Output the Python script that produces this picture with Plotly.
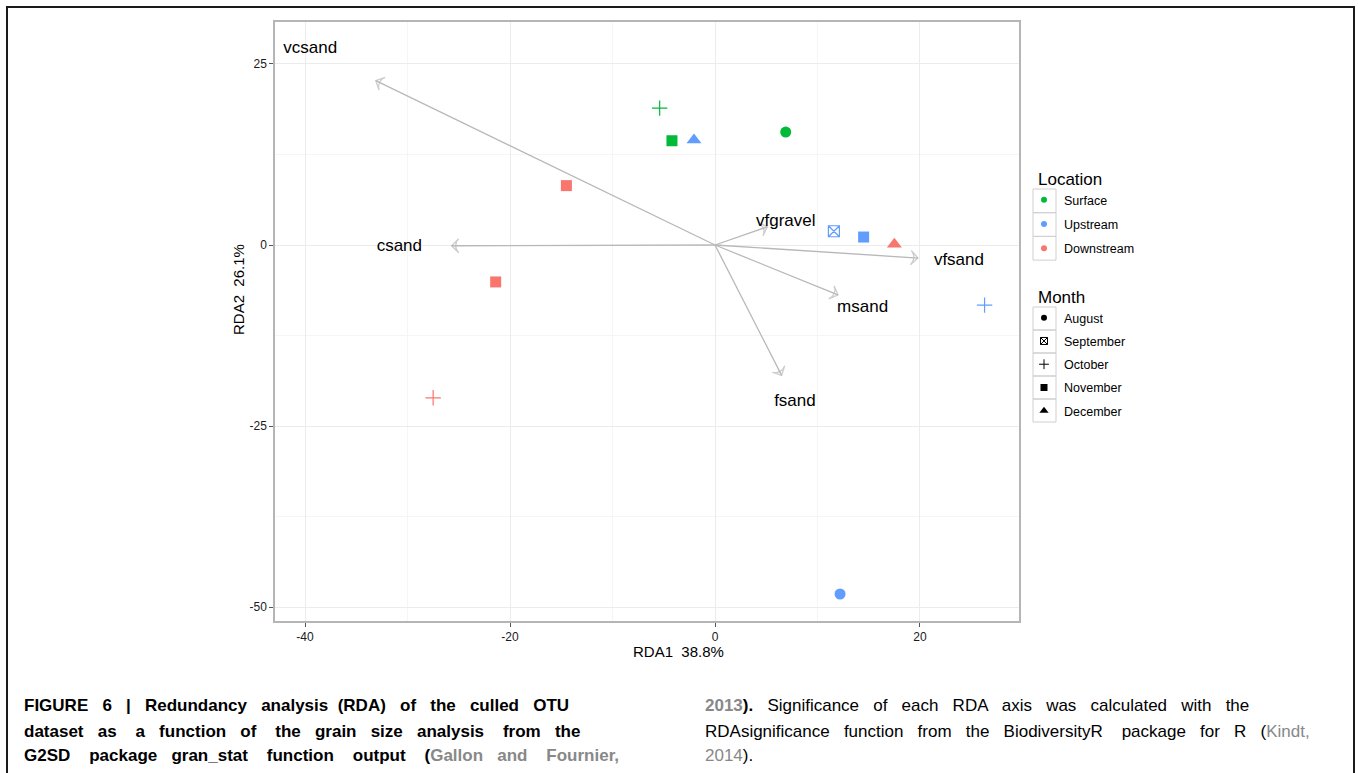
import re
import plotly.graph_objects as go

# ---------------- data ----------------
locations = ["Surface", "Upstream", "Downstream"]
loc_colors = {"Surface": "#00BA38", "Upstream": "#619CFF", "Downstream": "#F8766D"}
months = ["August", "September", "October", "November", "December"]
month_symbols = {"August": "circle", "September": "square-x-open", "October": "cross-thin-open",
                 "November": "square", "December": "triangle-up"}
month_sizes = {"August": 11, "September": 11, "October": 11, "November": 11, "December": 13}

sample_location = ["Surface", "Surface", "Surface",
                   "Upstream", "Upstream", "Upstream", "Upstream", "Upstream",
                   "Downstream", "Downstream", "Downstream", "Downstream"]
sample_month = ["August", "October", "November",
                "August", "September", "October", "November", "December",
                "October", "November", "November", "December"]
rda1 = [6.9, -5.4, -4.2,
        12.2, 11.6, 26.3, 14.5, -2.05,
        -27.5, -21.4, -14.5, 17.5]
rda2 = [15.6, 18.9, 14.4,
        -48.2, 1.9, -8.3, 1.1, 14.5,
        -21.1, -5.1, 8.2, 0.1]

vectors = ["vcsand", "csand", "vfgravel", "vfsand", "msand", "fsand"]
vec_x = [-33.1, -25.7, 5.1, 19.8, 12.0, 6.5]
vec_y = [22.7, -0.1, 2.5, -1.8, -6.9, -18.0]
label_x = [-39.5, -30.8, 6.9, 23.8, 14.4, 7.8]
label_y = [27.1, -0.3, 3.2, -2.2, -8.7, -21.7]

x_tickvals = [-40, -20, 0, 20]
y_tickvals = [-50, -25, 0, 25]
x_title = "RDA1  38.8%"
y_title = "RDA2  26.1%"

# ---------------- geometry helpers (page pixel -> paper) ----------------
L, R, T, B = 275, 1019, 22, 621
W, H = 1358, 773
def px(X):
    return (X - L) / (R - L)
def py(Y):
    return (B - Y) / (B - T)

FONT = "Liberation Sans, Arial, sans-serif"
fig = go.Figure()

# arrows (biplot vectors)
for name, ex, ey in zip(vectors, vec_x, vec_y):
    fig.add_trace(go.Scatter(
        x=[0, ex], y=[0, ey], mode="lines+markers",
        line=dict(color="#b8b8b8", width=1.3),
        marker=dict(symbol=["circle", "arrow-wide-open"], size=[0, 10], angleref="previous",
                    color="#b8b8b8", line=dict(color="#b8b8b8", width=1.3)),
        showlegend=False, hoverinfo="skip"))

# vector labels
fig.add_trace(go.Scatter(
    x=label_x, y=label_y, mode="text", text=vectors,
    textfont=dict(family=FONT, size=17, color="black"),
    textposition="middle center", showlegend=False, hoverinfo="skip"))

# sample points
for loc in locations:
    for mon in months:
        xs = [x for x, l, m in zip(rda1, sample_location, sample_month) if l == loc and m == mon]
        ys = [y for y, l, m in zip(rda2, sample_location, sample_month) if l == loc and m == mon]
        if not xs:
            continue
        sym = month_symbols[mon]
        open_sym = sym.endswith("open")
        fig.add_trace(go.Scatter(
            x=xs, y=ys, mode="markers", showlegend=False,
            name=f"{loc} {mon}",
            marker=dict(symbol=sym, size=month_sizes[mon], color=loc_colors[loc],
                        line=dict(color=loc_colors[loc], width=1.2 if open_sym else 0))))

# legend entries (Location)
for i, loc in enumerate(locations):
    fig.add_trace(go.Scatter(
        x=[None], y=[None], mode="markers", name=loc, legend="legend",
        legendgroup="loc" + str(i),
        marker=dict(symbol="circle", size=6, color=loc_colors[loc])))
# legend entries (Month)
legend_sizes = {"August": 6, "September": 7, "October": 7, "November": 7, "December": 8}
for i, mon in enumerate(months):
    sym = month_symbols[mon]
    fig.add_trace(go.Scatter(
        x=[None], y=[None], mode="markers", name=mon, legend="legend2",
        legendgroup="mon" + str(i),
        marker=dict(symbol=sym, size=legend_sizes[mon], color="black",
                    line=dict(color="black", width=1 if sym.endswith("open") else 0))))

axis_common = dict(showline=True, linecolor="#b5b5b5", linewidth=1.5, mirror=True,
                   ticks="outside", ticklen=4, tickcolor="#555555", tickwidth=1,
                   showgrid=True, gridcolor="#ececec", gridwidth=1, zeroline=False,
                   tickfont=dict(family=FONT, size=12, color="#1a1a1a"))

leg_common = dict(font=dict(size=12.5, family=FONT, color="black"),
                  bgcolor="rgba(0,0,0,0)", indentation=-12,
                  xanchor="left", yanchor="top")

fig.update_layout(
    width=W, height=H,
    margin=dict(l=L, r=W - R, t=T, b=H - B, autoexpand=False),
    paper_bgcolor="white", plot_bgcolor="white",
    xaxis=dict(range=[-42.93, 29.66], tickmode="array", tickvals=x_tickvals,
               ticktext=[str(v) for v in x_tickvals],
               minor=dict(showgrid=True, gridcolor="#f5f5f5", tickvals=[-30, -10, 10], ticks=""),
               **axis_common),
    yaxis=dict(range=[-51.93, 30.8], tickmode="array", tickvals=y_tickvals,
               ticktext=[str(v) for v in y_tickvals],
               minor=dict(showgrid=True, gridcolor="#f5f5f5", tickvals=[-37.5, -12.5, 12.5], ticks=""),
               **axis_common),
    legend=dict(title=dict(text="Location", font=dict(size=17, family=FONT, color="black")),
                x=px(1036), y=py(163), tracegroupgap=5, **leg_common),
    legend2=dict(title=dict(text="Month", font=dict(size=17, family=FONT, color="black")),
                 x=px(1036), y=py(281), tracegroupgap=4, **leg_common),
    font=dict(family=FONT),
)

# legend key boxes (ggplot-style)
def key_boxes(y_top, n, h, x0=1033, x1=1056):
    for k in range(n):
        fig.add_shape(type="rect", xref="paper", yref="paper",
                      x0=px(x0), x1=px(x1), y0=py(y_top + (k + 1) * h), y1=py(y_top + k * h),
                      line=dict(color="#cfcfcf", width=1), fillcolor="rgba(0,0,0,0)", layer="below")
key_boxes(189, 3, 23.7)
key_boxes(307, 5, 23.0)

# axis titles
fig.add_annotation(text=x_title.replace("  ", " &nbsp;"), xref="paper", yref="paper", x=px(678), y=py(651),
                   xanchor="center", yanchor="middle", showarrow=False,
                   font=dict(size=15, color="black", family=FONT))
fig.add_annotation(text=y_title.replace("  ", " &nbsp;"), xref="paper", yref="paper", x=px(238), y=py(290),
                   xanchor="center", yanchor="middle", showarrow=False, textangle=-90,
                   font=dict(size=15, color="black", family=FONT))

# outer figure frame
fig.add_shape(type="rect", xref="paper", yref="paper", x0=px(7), x1=px(1354), y0=py(800), y1=py(7),
              line=dict(color="#1a1a1a", width=2), fillcolor="rgba(0,0,0,0)", layer="above")

# caption (justified by widening the word gaps)
def justify(txt, extra):
    """Add `extra` non-breaking spaces spread over the word gaps outside tags."""
    parts = re.split(r"(<[^>]*>)", txt)
    gaps = sum(p.count(" ") for p in parts if not p.startswith("<"))
    out, g, acc = [], 0, 0
    for p in parts:
        if p.startswith("<"):
            out.append(p)
            continue
        s = ""
        for ch in p:
            if ch == " ":
                g += 1
                target = round(extra * g / max(gaps, 1))
                n = target - acc
                acc = target
                s += " " + "&nbsp;" * n
            else:
                s += ch
        out.append(s)
    return "".join(out)

cap_font = dict(family=FONT, size=17, color="black")
gray = "#888888"
left_lines = [
    "<b>FIGURE 6 | Redundancy analysis (RDA) of the culled OTU</b>",
    "<b>dataset as a function of the grain size analysis from the</b>",
    f"<b>G2SD package gran_stat function output (<span style='color:{gray}'>Gallon and Fournier,</span></b>",
]
right_lines = [
    f"<b><span style='color:{gray}'>2013</span>).</b> Significance of each RDA axis was calculated with the",
    f"RDAsignificance function from the BiodiversityR package for R (<span style='color:{gray}'>Kindt,</span>",
    f"<span style='color:{gray}'>2014</span>).",
]
left_extra = [17, 23, 19]
right_extra = [18, 17, 0]
line_y = [706, 731, 755]
for txt, ex, yy in zip(left_lines, left_extra, line_y):
    fig.add_annotation(text=justify(txt, ex), xref="paper", yref="paper", x=px(22), y=py(yy),
                       xanchor="left", yanchor="middle", showarrow=False, font=cap_font)
for txt, ex, yy in zip(right_lines, right_extra, line_y):
    fig.add_annotation(text=justify(txt, ex), xref="paper", yref="paper", x=px(703), y=py(yy),
                       xanchor="left", yanchor="middle", showarrow=False, font=cap_font)

# remove the default 8px body margin so the figure fills the window exactly
fig.write_html("out.html", config={"displayModeBar": False},
               post_script="document.body.style.margin='0px';document.body.style.overflow='hidden';")
